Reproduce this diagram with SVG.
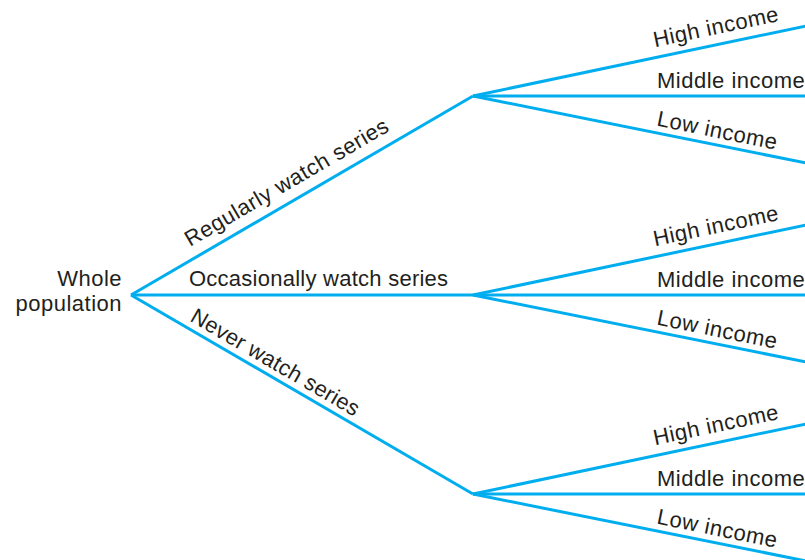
<svg xmlns="http://www.w3.org/2000/svg" width="805" height="560" viewBox="0 0 805 560">
<style>
.ln{stroke:#00AEEF;stroke-width:3;fill:none;stroke-linecap:butt}
text{font-family:"Liberation Sans",Arial,sans-serif;font-size:22px;fill:#231F20;letter-spacing:0.5px}
.tight{letter-spacing:0.25px}
</style>
<rect width="805" height="560" fill="#fff"/>
<g id="connectors">
<line class="ln" x1="131" y1="295" x2="473" y2="96"/>
<line class="ln" x1="131" y1="295" x2="473" y2="295"/>
<line class="ln" x1="131" y1="295" x2="473" y2="494"/>
<line class="ln" x1="473" y1="96" x2="806" y2="26"/>
<line class="ln" x1="473" y1="96" x2="806" y2="96"/>
<line class="ln" x1="473" y1="96" x2="806" y2="163"/>
<line class="ln" x1="473" y1="295" x2="806" y2="225"/>
<line class="ln" x1="473" y1="295" x2="806" y2="295"/>
<line class="ln" x1="473" y1="295" x2="806" y2="362"/>
<line class="ln" x1="473" y1="494" x2="806" y2="424"/>
<line class="ln" x1="473" y1="494" x2="806" y2="494"/>
<line class="ln" x1="473" y1="494" x2="806" y2="561"/>
</g>
<g id="root">
<text x="122" y="286" text-anchor="end">Whole</text>
<text x="122" y="311" text-anchor="end">population</text>
</g>
<g id="regular">
<text transform="translate(190,247) rotate(-30.19)">Regularly watch series</text>
</g>
<g id="occasional">
<text class="tight" x="189" y="286">Occasionally watch series</text>
</g>
<g id="never">
<text class="tight" transform="translate(189,320.5) rotate(30.19)">Never watch series</text>
</g>
<g id="regular-income">
<text transform="translate(655,47.2) rotate(-11.9)">High income</text>
<text x="657" y="87.5">Middle income</text>
<text transform="translate(656,125.5) rotate(11.4)">Low income</text>
</g>
<g id="occasional-income">
<text transform="translate(655,246.2) rotate(-11.9)">High income</text>
<text x="657" y="286.5">Middle income</text>
<text transform="translate(656,324.5) rotate(11.4)">Low income</text>
</g>
<g id="never-income">
<text transform="translate(655,445.2) rotate(-11.9)">High income</text>
<text x="657" y="485.5">Middle income</text>
<text transform="translate(656,523.5) rotate(11.4)">Low income</text>
</g>
</svg>
